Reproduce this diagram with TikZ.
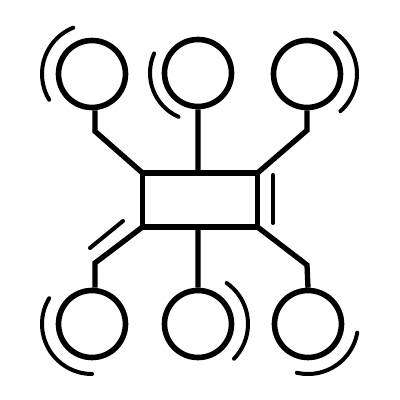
\documentclass[tikz,border=0pt]{standalone}
\usetikzlibrary{positioning}

\begin{document}
\begin{tikzpicture}[x=1pt, y=1pt,
	hub/.style={draw, line width=5.3pt, minimum width=115pt, minimum height=54pt, inner sep=0pt, outer sep=0pt},
	leaf/.style={draw, circle, line width=5.6pt, minimum size=67pt, inner sep=0pt},
	wire/.style={line width=5.3pt},
	wave/.style={line width=4pt, line cap=round}]

	\useasboundingbox (0,0) rectangle (400,400);

	\node[hub] (box) at (200,200) {};

	\node[leaf] (tl) at (92,326) {};
	\node[leaf] (tm) at (198,327) {};
	\node[leaf] (tr) at (307,326) {};
	\node[leaf] (bl) at (92,76) {};
	\node[leaf] (bm) at (198,76) {};
	\node[leaf] (br) at (308,76) {};

	\draw[wire]
	([xshift=3pt]tl.south) -- ++(0,-21) -- (box.north west)
	(tm.south) -- (tm.south |- box.north)
	(tr.south) -- ++(0,-20) -- (box.north east)
	(box.south west) -- (95,137) -- ([xshift=3pt]bl.north)
	(bm.north) -- (bm.north |- box.south)
	(box.south east) -- (307,135) -- (br.north);

	% motion strokes
	\draw[wave] (273,225) -- (273,177);
	\draw[wave] (123,179) -- (90,152);
	\draw[wave] (tl.center) ++(112:50) arc[start angle=112, end angle=211, radius=50];
	\draw[wave] (tm.center) ++(156:48) arc[start angle=156, end angle=246, radius=48];
	\draw[wave] (tr.center) ++(-48:50) arc[start angle=-48, end angle=56, radius=50];
	\draw[wave] (bl.center) ++(149:50) arc[start angle=149, end angle=270, radius=50];
	\draw[wave] (bm.center) ++(-44:50) arc[start angle=-44, end angle=55, radius=50];
	\draw[wave] (br.center) ++(-103:50) arc[start angle=-103, end angle=-10, radius=50];

\end{tikzpicture}
\end{document}
